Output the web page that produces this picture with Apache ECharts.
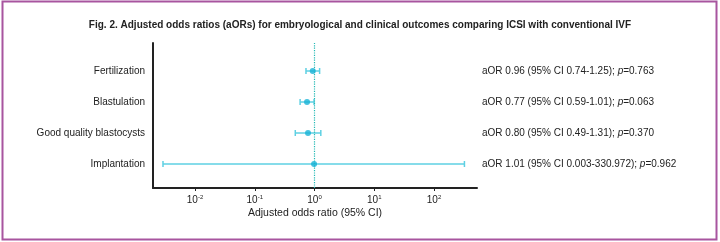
<!DOCTYPE html>
<html>
<head>
<meta charset="utf-8">
<script src="https://cdn.jsdelivr.net/npm/echarts@6/dist/echarts.min.js"></script>
<style>
  html, body { margin: 0; padding: 0; background: #fff; }
  #chart { width: 720px; height: 242px; }
</style>
</head>
<body>
<div id="chart"></div>
<script>
var categories = ['Fertilization', 'Blastulation', 'Good quality blastocysts', 'Implantation']
var aor = [0.96, 0.77, 0.80, 1.01]
var ciLow = [0.74, 0.59, 0.49, 0.003]
var ciHigh = [1.25, 1.01, 1.31, 330.972]
var pValues = ['0.763', '0.063', '0.370', '0.962']
var ciText = ['0.74-1.25', '0.59-1.01', '0.49-1.31', '0.003-330.972']
var tickExps = [-2, -1, 0, 1, 2]

var FONT = '"Liberation Sans", Arial, sans-serif'
var TXT = '#222'
var logMin = -2.69, logMax = 2.73

/* 数值转到 log10 空间 */
var lg = function (v) { return Math.log10(v) }

var rightLabels = categories.map(function (c, i) {
  return 'aOR ' + aor[i].toFixed(2) + ' (95% CI ' + ciText[i] + '); {i|p}=' + pValues[i]
})
var points = aor.map(function (v, i) { return [lg(v), i] })
var bars = categories.map(function (c, i) { return [i, lg(ciLow[i]), lg(ciHigh[i])] })

var myCharts = echarts.init(document.getElementById('chart'))
var options = {
  animation: false,
  title: {
    text: 'Fig. 2. Adjusted odds ratios (aORs) for embryological and clinical outcomes comparing ICSI with conventional IVF',
    left: 'center',
    top: 15,
    textStyle: { fontFamily: FONT, fontSize: 10, fontWeight: 'bold', color: TXT }
  },
  graphic: [{
    type: 'rect',
    shape: { x: 2.5, y: 1.5, width: 714, height: 238 },
    style: { fill: 'none', stroke: '#a8559f', lineWidth: 2 }
  }],
  grid: [
    // 外框坐标轴
    { left: 153, right: 243, top: 43, bottom: 54 },
    // 数据
    { left: 153, right: 243, top: 55.5, bottom: 62.5 },
    // 刻度
    { left: 195, right: 286, top: 43, bottom: 54 }
  ],
  xAxis: [
    {
      gridIndex: 0, type: 'value', min: logMin, max: logMax,
      axisLine: { show: true, onZero: false, lineStyle: { color: TXT, width: 2 } },
      axisTick: { show: false }, axisLabel: { show: false }, splitLine: { show: false },
      name: 'Adjusted odds ratio (95% CI)', nameLocation: 'middle', nameGap: 20,
      nameTextStyle: { fontFamily: FONT, fontSize: 10.5, color: TXT }
    },
    {
      gridIndex: 1, type: 'value', min: logMin, max: logMax, show: false
    },
    {
      gridIndex: 2, type: 'value', min: tickExps[0], max: tickExps[tickExps.length - 1], interval: 1,
      axisLine: { show: false }, splitLine: { show: false },
      axisTick: { show: true, length: 3, lineStyle: { color: TXT } },
      axisLabel: {
        margin: 6,
        formatter: function (v) { return '10{s|' + v + '}' },
        fontFamily: FONT, fontSize: 10, color: TXT,
        rich: { s: { fontFamily: FONT, fontSize: 6, color: TXT, verticalAlign: 'top', padding: [0, 0, 6, 0] } }
      }
    }
  ],
  yAxis: [
    {
      gridIndex: 0, type: 'value', min: 0, max: 1,
      axisLine: { show: true, onZero: false, lineStyle: { color: TXT, width: 2 } },
      axisTick: { show: false }, axisLabel: { show: false }, splitLine: { show: false }
    },
    {
      gridIndex: 1, type: 'category', inverse: true, data: categories,
      axisLine: { show: false }, axisTick: { show: false },
      axisLabel: { margin: 8, fontFamily: FONT, fontSize: 10, color: TXT }
    },
    {
      gridIndex: 1, type: 'category', inverse: true, position: 'right', data: rightLabels,
      axisLine: { show: false }, axisTick: { show: false },
      axisLabel: {
        margin: 5, fontFamily: FONT, fontSize: 10, color: TXT,
        rich: { i: { fontFamily: FONT, fontSize: 10, color: TXT, fontStyle: 'italic' } }
      }
    },
    { gridIndex: 2, type: 'value', show: false }
  ],
  series: [
    {
      type: 'line', xAxisIndex: 0, yAxisIndex: 0, data: [], silent: true,
      markLine: {
        symbol: 'none', silent: true, label: { show: false },
        lineStyle: { type: 'dotted', color: '#22b9b4', width: 1.2 },
        data: [{ xAxis: 0 }]
      }
    },
    {
      type: 'custom', xAxisIndex: 1, yAxisIndex: 1, data: bars,
      encode: { x: [1, 2], y: 0 },
      renderItem: function (params, api) {
        var y = api.value(0)
        var a = api.coord([api.value(1), y])
        var b = api.coord([api.value(2), y])
        var h = 3
        var st = { stroke: '#5ed0e3', lineWidth: 1.5 }
        return {
          type: 'group',
          children: [
            { type: 'line', shape: { x1: a[0], y1: a[1], x2: b[0], y2: b[1] }, style: st },
            { type: 'line', shape: { x1: a[0], y1: a[1] - h, x2: a[0], y2: a[1] + h }, style: st },
            { type: 'line', shape: { x1: b[0], y1: b[1] - h, x2: b[0], y2: b[1] + h }, style: st }
          ]
        }
      }
    },
    {
      type: 'scatter', xAxisIndex: 1, yAxisIndex: 1, data: points,
      symbolSize: 6, itemStyle: { color: '#16b2d6' }, z: 5
    }
  ]
}
myCharts.setOption(options)
</script>
</body>
</html>
